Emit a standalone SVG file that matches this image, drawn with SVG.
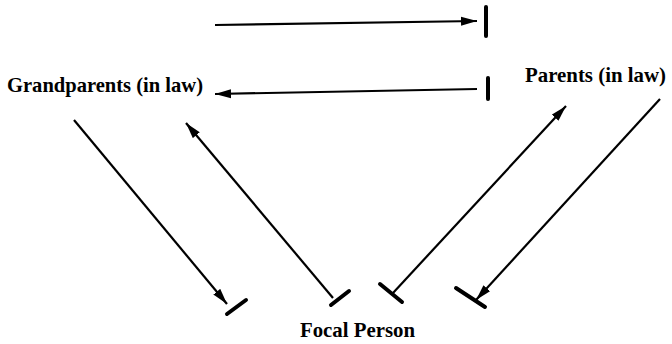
<svg xmlns="http://www.w3.org/2000/svg" width="672" height="344" viewBox="0 0 672 344">
<defs>
<marker id="ah" markerUnits="userSpaceOnUse" markerWidth="17" markerHeight="10" refX="16" refY="5" orient="auto">
<path d="M0,0.5 L16,5 L0,9.5 Z" fill="#000"/>
</marker>
<style>
.lbl{font-family:"Liberation Serif","Times New Roman",serif;font-weight:bold;font-size:21px;fill:#000}
.ln{stroke:#000;stroke-width:2.2;fill:none}
.arr{marker-end:url(#ah)}
.bar{stroke:#000;stroke-width:4;stroke-linecap:round;fill:none}
</style>
</defs>
<rect width="672" height="344" fill="#fff"/>
<g id="grandparents"><text class="lbl" x="7" y="92" textLength="196" lengthAdjust="spacingAndGlyphs">Grandparents (in law)</text></g>
<g id="parents"><text class="lbl" x="525" y="82" textLength="141" lengthAdjust="spacingAndGlyphs">Parents (in law)</text></g>
<g id="focal"><text class="lbl" x="300" y="337" textLength="115" lengthAdjust="spacingAndGlyphs">Focal Person</text></g>
<g id="connectors">
<line class="ln arr" x1="215" y1="25" x2="477" y2="21"/>
<line class="bar" x1="486" y1="7" x2="486" y2="36"/>
<line class="ln arr" x1="477" y1="89" x2="215" y2="94"/>
<line class="bar" x1="488" y1="78" x2="488" y2="99"/>
<line class="ln arr" x1="74" y1="120" x2="227" y2="304"/>
<line class="bar" x1="227" y1="314" x2="246" y2="300"/>
<line class="ln arr" x1="333" y1="298" x2="186" y2="123"/>
<line class="bar" x1="331" y1="305" x2="349" y2="291"/>
<line class="ln arr" x1="393" y1="293" x2="566" y2="106"/>
<line class="bar" x1="380" y1="284" x2="402" y2="302"/>
<line class="ln arr" x1="660" y1="99" x2="476" y2="300"/>
<line class="bar" x1="456" y1="288" x2="485" y2="307"/>
</g>
</svg>
